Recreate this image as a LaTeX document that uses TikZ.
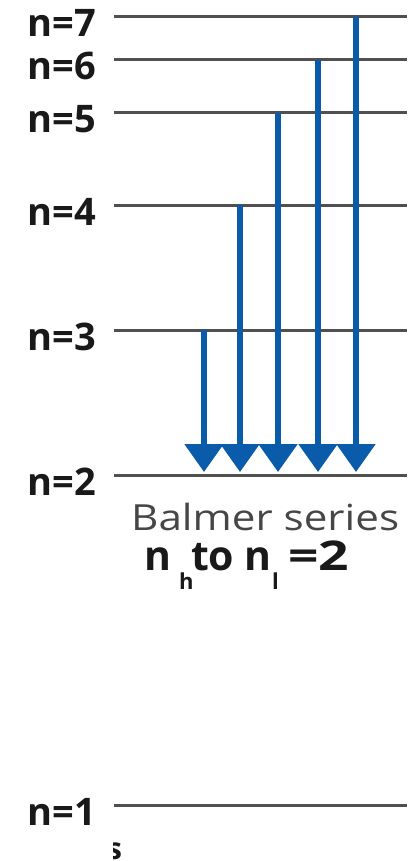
\documentclass[tikz,border=0pt]{standalone}
\usepackage{fontspec}
\setmainfont{Open Sans}
\usetikzlibrary{arrows.meta}
\definecolor{arrowblue}{RGB}{10,92,170}
\definecolor{levelgray}{RGB}{80,80,80}
\definecolor{labelblack}{RGB}{25,25,25}
\definecolor{textgray}{RGB}{70,70,70}
\newcommand{\subtxt}[2]{\raisebox{#1}{\fontsize{22}{22}\selectfont #2}}
\begin{document}
\begin{tikzpicture}[x=1pt,y=-1pt,
  levelline/.style={draw=levelgray,line width=3pt},
  nlabel/.style={anchor=base east,inner sep=0pt,text=labelblack,font=\fontsize{38}{38}\selectfont\bfseries},
  trans/.style={draw=arrowblue,line width=5.5pt,-{Triangle[width=38pt,length=28pt]}},
  captext/.style={anchor=base west,inner sep=0pt}]
\useasboundingbox (0,0) rectangle (407,861);
% level end points
\foreach \n/\y in {7/17,6/60,5/113,4/205,3/330,2/475,1/805}{
  \coordinate (L\n a) at (114,\y);
  \coordinate (L\n b) at (407,\y);
  \draw[levelline] (L\n a) -- (L\n b);
  \node[nlabel] (lab\n) at (96,\y+20) {n=\n};
}
% transitions
\foreach \n/\x in {3/204,4/240,5/278,6/318,7/356}{
  \coordinate (t\n) at (\x,0 |- L\n a);
  \coordinate (e\n) at (\x,472);
  \draw[trans] (t\n) -- (e\n);
}
\node[captext,text=textgray,font=\fontsize{36}{36}\selectfont] (balmer) at (131,530)
  {\resizebox{268pt}{\height}{Balmer series}};
\node[captext,text=labelblack,font=\fontsize{41}{41}\selectfont\bfseries] (rule) at (144,570)
  {\makebox[35pt][l]{n}\makebox[12pt][l]{\subtxt{-19pt}{h}}\makebox[53pt][l]{to}\makebox[28pt][l]{n}\makebox[16pt][l]{\subtxt{-19pt}{l}}\scalebox{1.3}[1]{=2}};
\begin{scope}
\clip (113,825) rectangle (126,861);
\node[captext,text=labelblack,font=\fontsize{30}{30}\selectfont\bfseries] (frag) at (107,859) {s};
\end{scope}
\end{tikzpicture}
\end{document}
